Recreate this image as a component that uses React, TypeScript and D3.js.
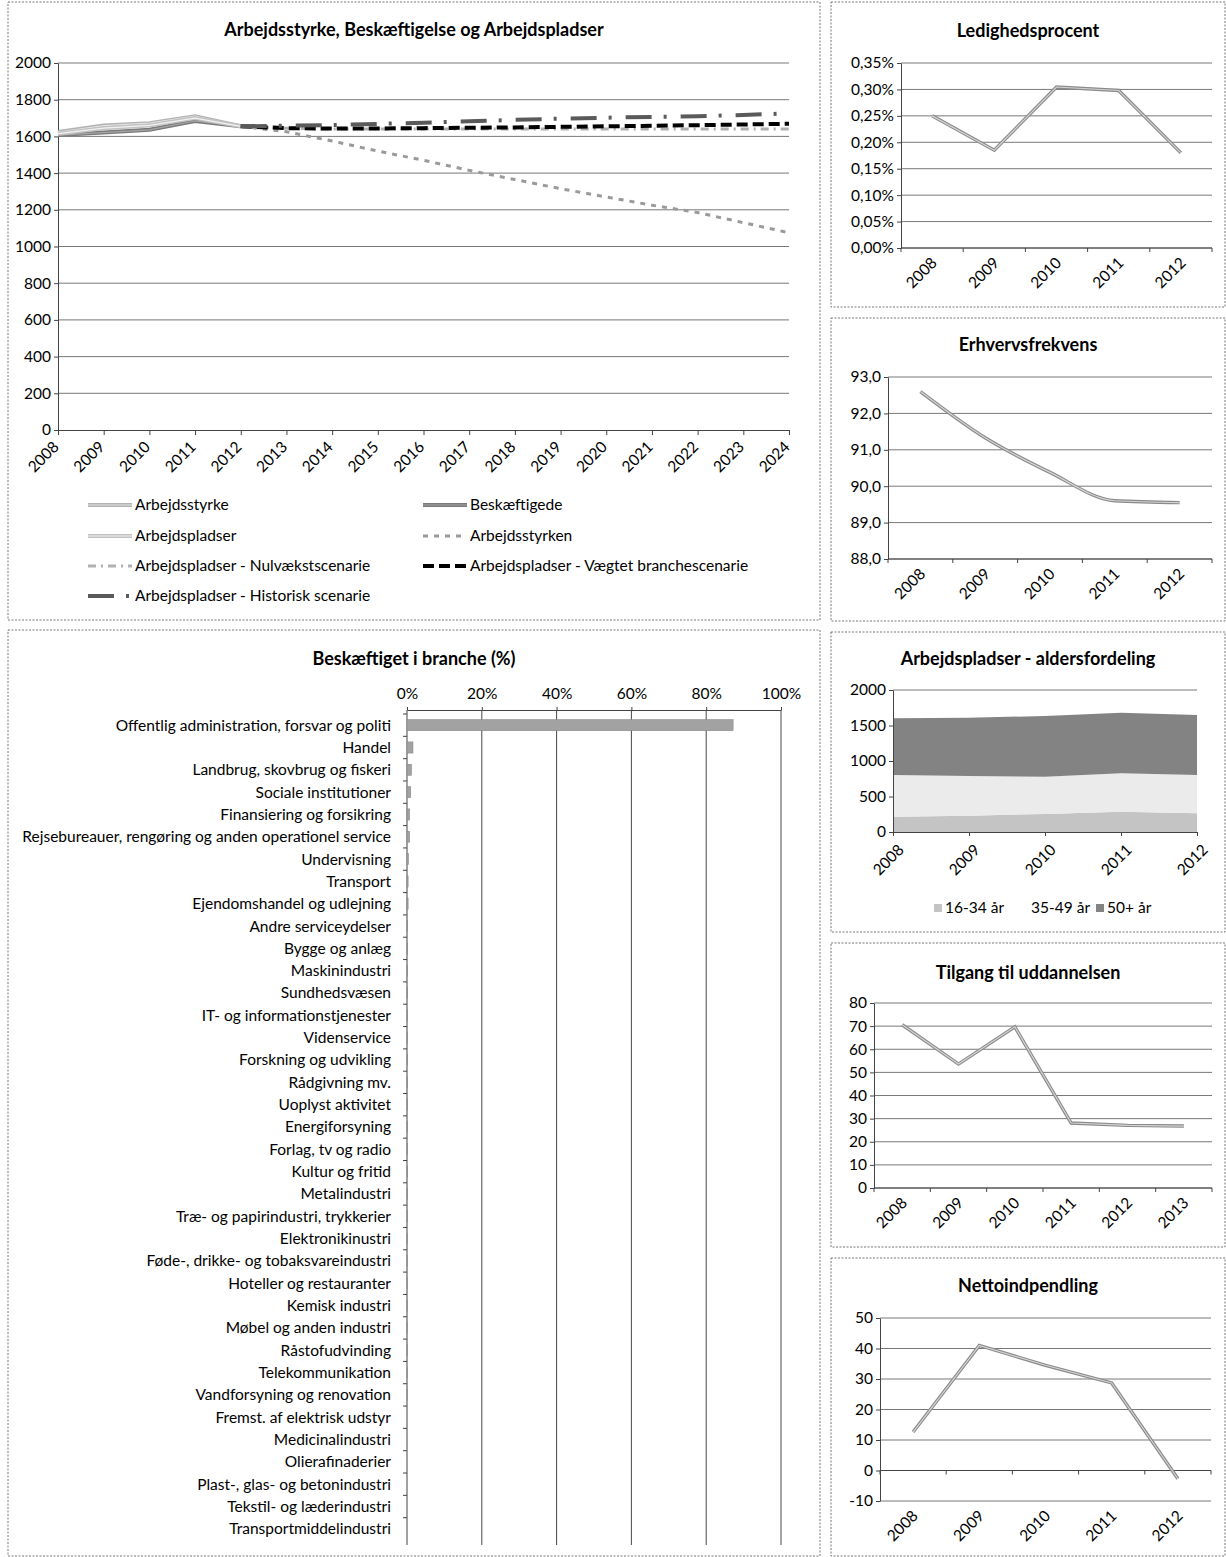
import { useRef, useEffect } from "react";
import * as d3 from "d3";

const W = 1226;
const H = 1557;
const FONT = "Lato, 'Open Sans', sans-serif";
const FS = 15.5;

// ---- main chart ----
const mainYears = ["2008", "2009", "2010", "2011", "2012", "2013", "2014", "2015", "2016", "2017", "2018", "2019", "2020", "2021", "2022", "2023", "2024"];
const mainYTicks = [0, 200, 400, 600, 800, 1000, 1200, 1400, 1600, 1800, 2000];
const arbejdsstyrke = [1624, 1659, 1672, 1710, 1655, null, null, null, null, null, null, null, null, null, null, null, null];
const beskaeftigede = [1607, 1621, 1636, 1684, 1655, null, null, null, null, null, null, null, null, null, null, null, null];
const arbejdspladser = [1615, 1645, 1660, 1700, 1655, null, null, null, null, null, null, null, null, null, null, null, null];
const arbejdsstyrken = [null, null, null, null, 1655, 1625, 1575, 1520, 1470, 1415, 1365, 1315, 1270, 1225, 1185, 1130, 1075];
const nulvaekst = [null, null, null, null, 1655, 1645, 1640, 1640, 1640, 1640, 1640, 1640, 1640, 1640, 1640, 1640, 1640];
const vaegtet = [null, null, null, null, 1655, 1645, 1643, 1643, 1645, 1647, 1649, 1652, 1655, 1658, 1661, 1665, 1669];
const historisk = [null, null, null, null, 1655, 1658, 1662, 1668, 1675, 1682, 1690, 1697, 1702, 1706, 1710, 1717, 1725];
const mainNames = [
  "Arbejdsstyrke",
  "Beskæftigede",
  "Arbejdspladser",
  "Arbejdsstyrken",
  "Arbejdspladser - Nulvækstscenarie",
  "Arbejdspladser - Vægtet branchescenarie",
  "Arbejdspladser - Historisk scenarie",
];

// ---- branches ----
const branches = [
  "Offentlig administration, forsvar og politi",
  "Handel",
  "Landbrug, skovbrug og fiskeri",
  "Sociale institutioner",
  "Finansiering og forsikring",
  "Rejsebureauer, rengøring og anden operationel service",
  "Undervisning",
  "Transport",
  "Ejendomshandel og udlejning",
  "Andre serviceydelser",
  "Bygge og anlæg",
  "Maskinindustri",
  "Sundhedsvæsen",
  "IT- og informationstjenester",
  "Videnservice",
  "Forskning og udvikling",
  "Rådgivning mv.",
  "Uoplyst aktivitet",
  "Energiforsyning",
  "Forlag, tv og radio",
  "Kultur og fritid",
  "Metalindustri",
  "Træ- og papirindustri, trykkerier",
  "Elektronikinustri",
  "Føde-, drikke- og tobaksvareindustri",
  "Hoteller og restauranter",
  "Kemisk industri",
  "Møbel og anden industri",
  "Råstofudvinding",
  "Telekommunikation",
  "Vandforsyning og renovation",
  "Fremst. af elektrisk udstyr",
  "Medicinalindustri",
  "Olierafinaderier",
  "Plast-, glas- og betonindustri",
  "Tekstil- og læderindustri",
  "Transportmiddelindustri",
];
const branchShare = [0.872, 0.016, 0.012, 0.01, 0.007, 0.007, 0.004, 0.003, 0.003, 0.002, 0.002, 0.002, 0.002, 0.002, 0.0015, 0.0015, 0.001, 0.001, 0.001, 0.001, 0.001, 0.001, 0.001, 0.0005, 0.0005, 0.0005, 0.0005, 0.0005, 0.0005, 0.0005, 0.0005, 0, 0, 0, 0, 0, 0];
const branchTicks = [0, 0.2, 0.4, 0.6, 0.8, 1];

// ---- small charts ----
const years5 = ["2008", "2009", "2010", "2011", "2012"];
const years6 = ["2008", "2009", "2010", "2011", "2012", "2013"];
const ledighed = [0.0025, 0.00185, 0.003046, 0.00298, 0.0018];
const ledighedTicks = [0, 0.0005, 0.001, 0.0015, 0.002, 0.0025, 0.003, 0.0035];
const erhverv = [92.6, 91.33, 90.38, 89.6, 89.55];
const erhvervTicks = [88, 89, 90, 91, 92, 93];
const age16_34 = [215, 230, 254, 286, 263];
const age35_49 = [588, 559, 525, 540, 540];
const age50 = [798, 821, 855, 854, 845];
const ageTicks = [0, 500, 1000, 1500, 2000];
const ageNames = ["16-34 år", "35-49 år", "50+ år"];
const tilgang = [70.6, 53.6, 69.7, 28.1, 27.1, 26.8];
const tilgangTicks = [0, 10, 20, 30, 40, 50, 60, 70, 80];
const netto = [12.6, 41, 34.5, 28.7, -2.7];
const nettoTicks = [-10, 0, 10, 20, 30, 40, 50];

const dk = d3.formatLocale({ decimal: ",", thousands: ".", grouping: [3], currency: ["", " kr."], minus: "-" });

type Sel = d3.Selection<SVGSVGElement, unknown, null, undefined>;

function panel(svg: Sel, x0: number, y0: number, x1: number, y1: number) {
  svg.append("rect").attr("x", x0).attr("y", y0).attr("width", x1 - x0).attr("height", y1 - y0)
    .attr("fill", "#fff").attr("stroke", "#777").attr("stroke-width", 1).attr("stroke-dasharray", "2,1.5");
}

function title(svg: Sel, text: string, x: number, y: number) {
  svg.append("text").attr("x", x).attr("y", y).attr("text-anchor", "middle").attr("dy", "0.35em")
    .attr("font-size", 18).attr("font-weight", "bold").attr("font-family", FONT).text(text);
}

function styleAxis(g: d3.Selection<SVGGElement, unknown, null, undefined>) {
  g.attr("font-family", FONT).attr("font-size", FS);
  g.select(".domain").attr("stroke", "#444");
  g.selectAll(".tick line").attr("stroke", "#444");
  g.selectAll(".tick text").attr("fill", "#000");
}

function rotLabels(g: d3.Selection<SVGGElement, unknown, null, undefined>, cats: string[], xs: (c: string) => number, y: number) {
  g.selectAll("text.xl").data(cats).join("text")
    .attr("transform", (d) => `translate(${xs(d)},${y}) rotate(-45)`)
    .attr("text-anchor", "end").attr("dy", "0.35em")
    .attr("font-size", FS).attr("font-family", FONT).text((d) => d);
}

interface SmallCfg {
  title: string; titleY: number; cats: string[]; values: number[];
  x0: number; x1: number; yTop: number; yBot: number; domain: [number, number];
  ticks: number[]; fmt: (n: number) => string; curve?: d3.CurveFactory; axisAt?: number;
  ldx: number; ldy: number;
}

function smallLine(svg: Sel, c: SmallCfg) {
  const x = d3.scaleBand().domain(c.cats).range([c.x0, c.x1]);
  const y = d3.scaleLinear().domain(c.domain).range([c.yBot, c.yTop]);
  const cx = (d: string) => x(d)! + x.bandwidth() / 2;
  title(svg, c.title, 1028, c.titleY);
  const g = svg.append("g");
  g.selectAll("line.grid").data(c.ticks).join("line")
    .attr("x1", c.x0).attr("x2", c.x1).attr("y1", (d) => y(d)).attr("y2", (d) => y(d))
    .attr("stroke", "#555").attr("stroke-width", 0.8);
  const ya = g.append("g").attr("transform", `translate(${c.x0},0)`)
    .call(d3.axisLeft(y).tickValues(c.ticks).tickFormat((d) => c.fmt(d as number)).tickSize(4).tickSizeOuter(0));
  styleAxis(ya);
  const base = y(c.axisAt ?? c.domain[0]);
  const edges = [...c.cats.map((d) => x(d)!), c.x1];
  g.append("line").attr("x1", c.x0).attr("x2", c.x1).attr("y1", base).attr("y2", base).attr("stroke", "#444");
  g.selectAll("line.xt").data(edges).join("line")
    .attr("x1", (d) => d).attr("x2", (d) => d).attr("y1", base).attr("y2", base + 4).attr("stroke", "#444");
  rotLabels(g, c.cats, (d) => cx(d) + c.ldx, c.yBot + c.ldy);
  const line = d3.line<number>().x((_, i) => cx(c.cats[i])).y((d) => y(d)).curve(c.curve ?? d3.curveLinear);
  g.append("path").datum(c.values).attr("d", line).attr("fill", "none").attr("stroke", "#8a8a8a").attr("stroke-width", 3.4);
  g.append("path").datum(c.values).attr("d", line).attr("fill", "none").attr("stroke", "#d4d4d4").attr("stroke-width", 1.2);
}

function drawMain(svg: Sel) {
  const x = d3.scalePoint().domain(mainYears).range([58, 789]);
  const y = d3.scaleLinear().domain([0, 2000]).range([430, 63]);
  title(svg, "Arbejdsstyrke, Beskæftigelse og Arbejdspladser", 414, 30);
  const g = svg.append("g");
  g.selectAll("line.grid").data(mainYTicks.filter((t) => t > 0)).join("line")
    .attr("x1", 58).attr("x2", 789).attr("y1", (d) => y(d)).attr("y2", (d) => y(d))
    .attr("stroke", "#555").attr("stroke-width", 0.8);
  const ya = g.append("g").attr("transform", "translate(58,0)")
    .call(d3.axisLeft(y).tickValues(mainYTicks).tickFormat(d3.format("d")).tickSize(4).tickSizeOuter(0));
  styleAxis(ya);
  const xa = g.append("g").attr("transform", "translate(0,430)")
    .call(d3.axisBottom(x).tickSize(5).tickSizeOuter(0).tickFormat(() => ""));
  styleAxis(xa);
  rotLabels(g, mainYears, (d) => x(d)! - 2, 444);

  const styles = [
    { stroke: "#b2b2b2", w: 4, dash: "", inner: "#e4e4e4" },
    { stroke: "#7a7a7a", w: 4, dash: "", inner: "#a6a6a6" },
    { stroke: "#c2c2c2", w: 4, dash: "", inner: "#f2f2f2" },
    { stroke: "#9a9a9a", w: 3, dash: "5,6", inner: "" },
    { stroke: "#b0b0b0", w: 3, dash: "8,5,2,5", inner: "" },
    { stroke: "#000", w: 4, dash: "11,5", inner: "" },
    { stroke: "#5a5a5a", w: 4, dash: "26,12,3,14", inner: "" },
  ];
  const series = [arbejdsstyrke, beskaeftigede, arbejdspladser, arbejdsstyrken, nulvaekst, vaegtet, historisk];
  const line = d3.line<number | null>().defined((d) => d != null)
    .x((_, i) => x(mainYears[i])!).y((d) => y(d as number));
  series.forEach((s, i) => {
    const st = styles[i];
    g.append("path").datum(s).attr("d", line).attr("fill", "none").attr("stroke", st.stroke)
      .attr("stroke-width", st.w).attr("stroke-dasharray", st.dash || null);
    if (st.inner) {
      g.append("path").datum(s).attr("d", line).attr("fill", "none").attr("stroke", st.inner).attr("stroke-width", 1.2);
    }
  });

  // legend
  const colX = [88, 423];
  const rowY = [505, 536, 566, 596];
  mainNames.forEach((name, i) => {
    const lx = colX[i % 2];
    const ly = rowY[Math.floor(i / 2)];
    const st = styles[i];
    g.append("line").attr("x1", lx).attr("x2", lx + 44).attr("y1", ly).attr("y2", ly)
      .attr("stroke", st.stroke).attr("stroke-width", st.w).attr("stroke-dasharray", st.dash || null);
    if (st.inner) {
      g.append("line").attr("x1", lx).attr("x2", lx + 44).attr("y1", ly).attr("y2", ly)
        .attr("stroke", st.inner).attr("stroke-width", 1.2);
    }
    g.append("text").attr("x", lx + 47).attr("y", ly).attr("dy", "0.35em")
      .attr("font-size", FS).attr("font-family", FONT).text(name);
  });
}

function drawBars(svg: Sel) {
  const x = d3.scaleLinear().domain([0, 1]).range([407, 781]);
  const y = d3.scaleBand().domain(branches).range([714, 1540]).paddingInner(0.5).paddingOuter(0.25);
  const yb = d3.scaleBand().domain(branches).range([714, 1540]);
  title(svg, "Beskæftiget i branche (%)", 414, 659);
  const g = svg.append("g");
  g.selectAll("line.vg").data(branchTicks.filter((t) => t > 0)).join("line")
    .attr("x1", (d) => x(d)).attr("x2", (d) => x(d)).attr("y1", 710).attr("y2", 1545)
    .attr("stroke", "#333").attr("stroke-width", 0.9);
  const xa = g.append("g").attr("transform", "translate(0,710)")
    .call(d3.axisTop(x).tickValues(branchTicks).tickFormat(d3.format(".0%")).tickSize(3).tickSizeOuter(0).tickPadding(8));
  styleAxis(xa);
  g.append("line").attr("x1", 407).attr("x2", 407).attr("y1", 710).attr("y2", 1545).attr("stroke", "#444");
  g.selectAll("line.yt").data(branches).join("line")
    .attr("x1", 403).attr("x2", 407).attr("y1", (d) => yb(d)!).attr("y2", (d) => yb(d)!).attr("stroke", "#444");
  g.selectAll("rect.bar").data(branchShare).join("rect")
    .attr("x", x(0)).attr("y", (_, i) => y(branches[i])!)
    .attr("width", (d) => x(d) - x(0)).attr("height", y.bandwidth())
    .attr("fill", "#a2a2a2").attr("stroke", "#808080").attr("stroke-width", 0.5);
  g.selectAll("text.bl").data(branches).join("text")
    .attr("x", 391).attr("y", (d) => yb(d)! + yb.bandwidth() / 2).attr("dy", "0.35em")
    .attr("text-anchor", "end").attr("font-size", FS).attr("font-family", FONT).text((d) => d);
}

function drawAge(svg: Sel) {
  const x = d3.scalePoint().domain(years5).range([893, 1197]);
  const y = d3.scaleLinear().domain([0, 2000]).range([832, 690]);
  title(svg, "Arbejdspladser - aldersfordeling", 1028, 659);
  const rows = years5.map((yr, i) => ({ yr, a: age16_34[i], b: age35_49[i], c: age50[i] }));
  const stack = d3.stack<{ yr: string; a: number; b: number; c: number }>().keys(["a", "b", "c"]);
  const layers = stack(rows);
  const fills = ["#c4c4c4", "#ebebeb", "#838383"];
  const area = d3.area<d3.SeriesPoint<{ yr: string; a: number; b: number; c: number }>>()
    .x((d) => x(d.data.yr)!).y0((d) => y(d[0])).y1((d) => y(d[1]));
  const g = svg.append("g");
  g.append("line").attr("x1", 893).attr("x2", 1197).attr("y1", 690).attr("y2", 690).attr("stroke", "#555").attr("stroke-width", 0.8);
  layers.forEach((l, i) => {
    g.append("path").datum(l).attr("d", area).attr("fill", fills[i]);
  });
  const ya = g.append("g").attr("transform", "translate(893,0)")
    .call(d3.axisLeft(y).tickValues(ageTicks).tickFormat(d3.format("d")).tickSize(4).tickSizeOuter(0));
  styleAxis(ya);
  const xa = g.append("g").attr("transform", "translate(0,832)")
    .call(d3.axisBottom(x).tickSize(4).tickSizeOuter(0).tickFormat(() => ""));
  styleAxis(xa);
  rotLabels(g, years5, (d) => x(d)! + 8, 847);
  const lx = [934, 1020, 1096];
  ageNames.forEach((n, i) => {
    if (i !== 1) {
      g.append("rect").attr("x", lx[i]).attr("y", 904).attr("width", 8).attr("height", 8).attr("fill", fills[i]);
    }
    g.append("text").attr("x", lx[i] + 11).attr("y", 908).attr("dy", "0.35em")
      .attr("font-size", FS).attr("font-family", FONT).text(n);
  });
}

export default function App() {
  const ref = useRef<SVGSVGElement | null>(null);

  useEffect(() => {
    const svg = d3.select(ref.current!) as Sel;
    svg.selectAll("*").remove();
    svg.append("rect").attr("width", W).attr("height", H).attr("fill", "#fff");

    panel(svg, 8, 2, 820, 620);
    panel(svg, 831, 2, 1225, 307);
    panel(svg, 831, 318, 1225, 621);
    panel(svg, 8, 630, 820, 1556);
    panel(svg, 831, 632, 1225, 932);
    panel(svg, 831, 943, 1225, 1247);
    panel(svg, 831, 1258, 1225, 1556);

    drawMain(svg);
    drawBars(svg);
    drawAge(svg);

    smallLine(svg, {
      title: "Ledighedsprocent", titleY: 31, cats: years5, values: ledighed,
      x0: 901, x1: 1212, yTop: 63, yBot: 248, domain: [0, 0.0035], ticks: ledighedTicks,
      fmt: dk.format(".2%"), ldx: 2, ldy: 12,
    });
    smallLine(svg, {
      title: "Erhvervsfrekvens", titleY: 345, cats: years5, values: erhverv,
      x0: 888, x1: 1212, yTop: 377, yBot: 559, domain: [88, 93], ticks: erhvervTicks,
      fmt: dk.format(".1f"), curve: d3.curveMonotoneX, ldx: 2, ldy: 12,
    });
    smallLine(svg, {
      title: "Tilgang til uddannelsen", titleY: 973, cats: years6, values: tilgang,
      x0: 874, x1: 1212, yTop: 1003, yBot: 1188, domain: [0, 80], ticks: tilgangTicks,
      fmt: dk.format("d"), ldx: 2, ldy: 12,
    });
    smallLine(svg, {
      title: "Nettoindpendling", titleY: 1286, cats: years5, values: netto,
      x0: 880, x1: 1211, yTop: 1318, yBot: 1501, domain: [-10, 50], ticks: nettoTicks,
      fmt: dk.format("d"), axisAt: 0, ldx: 2, ldy: 12,
    });
  }, []);

  return <svg ref={ref} width={W} height={H} style={{ position: "absolute", left: 0, top: 0 }} />;
}
